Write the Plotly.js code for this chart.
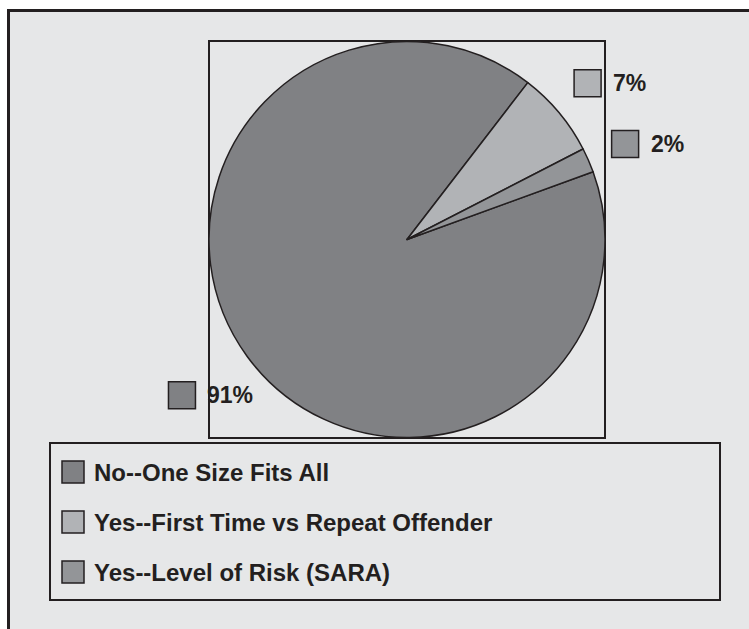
<!DOCTYPE html>
<html>
<head>
<meta charset="utf-8">
<script src="https://cdn.plot.ly/plotly-3.0.1.min.js"></script>
<style>html,body{margin:0;padding:0;background:#fff;}#chart{width:749px;height:629px;}</style>
</head>
<body>
<div id="chart"></div>
<script>
// ---- data ----
const categories = ['No--One Size Fits All', 'Yes--First Time vs Repeat Offender', 'Yes--Level of Risk (SARA)'];
const shares = [91, 7, 2];
const pctLabels = ['91%', '7%', '2%'];
const sliceColors = ['#808184', '#b1b3b6', '#939598'];

// ---- geometry helpers ----
const W = 749, H = 629;
const px = x => x / W;
const py = y => 1 - y / H;
const FONT = 'Liberation Sans, Arial, Helvetica, sans-serif';
const INK = '#231f20';
const BG = '#e6e7e8';
const FS = 23;
const LFS = 24;

const pieBox = {x0: 209, y0: 41, x1: 605, y1: 438};
const rotation = 70;
const cx = (pieBox.x0 + pieBox.x1) / 2, cy = (pieBox.y0 + pieBox.y1) / 2;
const r = Math.min(pieBox.x1 - pieBox.x0, pieBox.y1 - pieBox.y0) / 2;
// label ring origin (slightly offset from the pie centre, as in the original)
const lcx = cx + 8, lcy = cy + 6;

const canvas = document.createElement('canvas');
const ctx = canvas.getContext('2d');
ctx.font = 'bold ' + FS + 'px "Liberation Sans"';

const shapes = [];
const annotations = [];

// outer frame
shapes.push({type: 'rect', xref: 'paper', yref: 'paper', layer: 'below',
  x0: px(8.5), x1: px(W + 20), y0: py(10.5), y1: py(H + 20),
  fillcolor: BG, line: {color: INK, width: 3}});
// pie box
shapes.push({type: 'rect', xref: 'paper', yref: 'paper', layer: 'below',
  x0: px(pieBox.x0), x1: px(pieBox.x1), y0: py(pieBox.y0), y1: py(pieBox.y1),
  fillcolor: 'rgba(0,0,0,0)', line: {color: INK, width: 2}});

// percentage labels placed along each slice's mid-angle
const total = shares.reduce((a, b) => a + b, 0);
let ang = rotation;
const SQ = 27, GAP = 11, DIST = 1.28;
shares.forEach((v, i) => {
  const span = v / total * 360;
  const mid = (ang + span / 2) * Math.PI / 180;
  ang += span;
  const gx = lcx + DIST * r * Math.sin(mid);
  const gy = lcy - DIST * r * Math.cos(mid);
  const tw = ctx.measureText(pctLabels[i]).width;
  const gw = SQ + GAP + tw;
  const left = gx - gw / 2;
  shapes.push({type: 'rect', xref: 'paper', yref: 'paper',
    x0: px(left), x1: px(left + SQ), y0: py(gy - SQ / 2), y1: py(gy + SQ / 2),
    fillcolor: sliceColors[i], line: {color: INK, width: 1.5}});
  annotations.push({xref: 'paper', yref: 'paper', x: px(left + SQ + GAP - 1), y: py(gy),
    xanchor: 'left', yanchor: 'middle', showarrow: false, text: pctLabels[i],
    font: {family: FONT, size: FS, color: INK, weight: 'bold'}});
});

// legend box + entries
const legBox = {x0: 50, y0: 443, x1: 720, y1: 600};
shapes.push({type: 'rect', xref: 'paper', yref: 'paper',
  x0: px(legBox.x0), x1: px(legBox.x1), y0: py(legBox.y0), y1: py(legBox.y1),
  fillcolor: 'rgba(0,0,0,0)', line: {color: INK, width: 2}});
const LSQ = 22, rowStart = 472, rowStep = 50;
categories.forEach((c, i) => {
  const yc = rowStart + i * rowStep;
  shapes.push({type: 'rect', xref: 'paper', yref: 'paper',
    x0: px(62), x1: px(62 + LSQ), y0: py(yc - LSQ / 2), y1: py(yc + LSQ / 2),
    fillcolor: sliceColors[i], line: {color: INK, width: 1.5}});
  annotations.push({xref: 'paper', yref: 'paper', x: px(92), y: py(yc),
    xanchor: 'left', yanchor: 'middle', showarrow: false, text: c,
    font: {family: FONT, size: LFS, color: INK, weight: 'bold'}});
});

const trace = {
  type: 'pie',
  labels: categories,
  values: shares,
  sort: false,
  direction: 'clockwise',
  rotation: rotation,
  textinfo: 'none',
  hoverinfo: 'label+percent',
  showlegend: false,
  marker: {colors: sliceColors, line: {color: INK, width: 1.5}},
  domain: {x: [px(pieBox.x0), px(pieBox.x1)], y: [py(pieBox.y1), py(pieBox.y0)]}
};

const layout = {
  width: W, height: H,
  margin: {l: 0, r: 0, t: 0, b: 0},
  paper_bgcolor: '#ffffff',
  showlegend: false,
  shapes: shapes,
  annotations: annotations,
  font: {family: FONT, color: INK}
};

Plotly.newPlot('chart', [trace], layout, {displayModeBar: false, staticPlot: true});
</script>
</body>
</html>
